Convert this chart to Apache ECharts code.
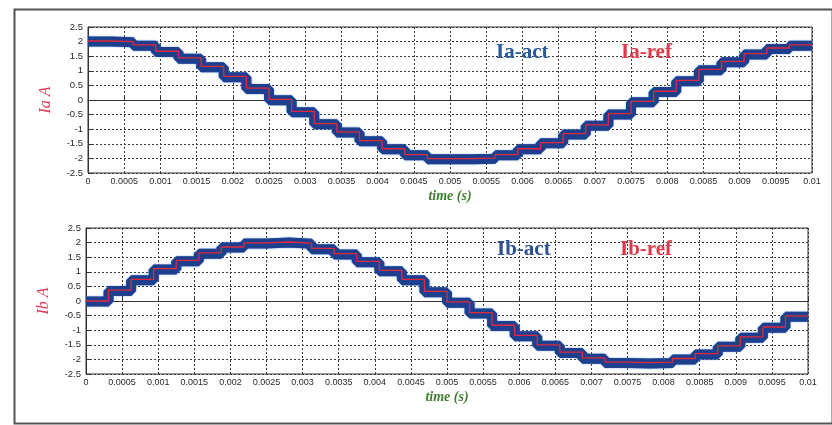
<!DOCTYPE html>
<html>
<head>
<meta charset="utf-8">
<script src="https://cdn.jsdelivr.net/npm/echarts@6/dist/echarts.min.js"></script>
<style>
html,body{margin:0;padding:0;background:#fff;}
#c{width:832px;height:425px;}
</style>
</head>
<body>
<div id="c"></div>
<script>
// step boundaries (s)
const tBounds = [0, 0.0003125, 0.000625, 0.0009375, 0.00125, 0.0015625, 0.001875, 0.0021875, 0.0025, 0.0028125, 0.003125, 0.0034375, 0.00375, 0.0040625, 0.004375, 0.0046875, 0.005, 0.0053125, 0.005625, 0.0059375, 0.00625, 0.0065625, 0.006875, 0.0071875, 0.0075, 0.0078125, 0.008125, 0.0084375, 0.00875, 0.0090625, 0.009375, 0.0096875, 0.01];
// Ia (A), one value per step
const iaRef = [2.02, 2.0, 1.89, 1.67, 1.44, 1.15, 0.81, 0.41, 0.02, -0.39, -0.81, -1.09, -1.39, -1.67, -1.87, -2.01, -2.01, -1.99, -1.87, -1.67, -1.46, -1.15, -0.85, -0.47, -0.05, 0.30, 0.67, 1.05, 1.32, 1.59, 1.78, 1.89];
const iaAct = [2.0, 1.98, 1.86, 1.64, 1.41, 1.12, 0.78, 0.38, -0.01, -0.42, -0.83, -1.11, -1.41, -1.69, -1.89, -2.03, -2.03, -2.01, -1.89, -1.69, -1.48, -1.18, -0.88, -0.50, -0.08, 0.27, 0.64, 1.02, 1.29, 1.56, 1.75, 1.86];
// Ib (A), one value per step
const ibRef = [0.0, 0.37, 0.74, 1.11, 1.39, 1.65, 1.85, 1.99, 2.02, 1.98, 1.80, 1.62, 1.36, 1.05, 0.74, 0.33, -0.03, -0.40, -0.83, -1.18, -1.50, -1.75, -1.95, -2.09, -2.11, -2.09, -1.97, -1.80, -1.54, -1.23, -0.89, -0.51];
const ibAct = [-0.02, 0.34, 0.71, 1.08, 1.36, 1.62, 1.83, 1.97, 2.0, 1.96, 1.77, 1.59, 1.33, 1.02, 0.71, 0.30, -0.06, -0.43, -0.86, -1.21, -1.53, -1.78, -1.98, -2.12, -2.14, -2.12, -2.0, -1.83, -1.57, -1.26, -0.92, -0.54];
// tick labels
const xTickLabels = ['0','0.0005','0.001','0.0015','0.002','0.0025','0.003','0.0035','0.004','0.0045','0.005','0.0055','0.006','0.0065','0.007','0.0075','0.008','0.0085','0.009','0.0095','0.01'];
const yTickLabels = ['-2.5','-2','-1.5','-1','-0.5','0','0.5','1','1.5','2','2.5'];

function stepPts(vals){
  const pts = vals.map((v,i)=>[tBounds[i], v]);
  pts.push([tBounds[tBounds.length-1], vals[vals.length-1]]);
  return pts;
}

const chart = echarts.init(document.getElementById('c'), null, {renderer:'canvas'});

function xAxisCfg(gi){
  return {
    type:'value', gridIndex:gi, min:0, max:0.01, interval:0.0005,
    name:'time (s)', nameLocation:'middle', nameGap:16,
    nameTextStyle:{color:'#3f7f2f', fontFamily:'Liberation Serif', fontStyle:'italic', fontWeight:'bold', fontSize:14},
    axisLine:{show:true, lineStyle:{color:'#333', width:1}},
    axisTick:{show:true, inside:true, length:4, lineStyle:{color:'#333'}},
    axisLabel:{color:'#2a2a2a', fontFamily:'Liberation Sans', fontSize:9, margin:4, interval:0, hideOverlap:false,
      formatter:v=>xTickLabels[Math.round(v/0.0005)]},
    splitLine:{show:true, lineStyle:{color:'#3a3a3a', type:[2,2], width:1}}
  };
}
function yAxisCfg(gi, nm){
  return {
    type:'value', gridIndex:gi, min:-2.5, max:2.5, interval:0.5,
    name:nm, nameLocation:'middle', nameGap:34, nameRotate:90,
    nameTextStyle:{color:'#e0405a', fontFamily:'Liberation Serif', fontStyle:'italic', fontSize:16},
    axisLine:{show:true, lineStyle:{color:'#333', width:1}},
    axisTick:{show:true, inside:true, length:4, lineStyle:{color:'#333'}},
    axisLabel:{color:'#2a2a2a', fontFamily:'Liberation Sans', fontSize:9.5, margin:5,
      formatter:v=>yTickLabels[Math.round((v+2.5)/0.5)]},
    splitLine:{show:true, lineStyle:{color:'#3a3a3a', type:[2,2], width:1}}
  };
}
function actSeries(name, gi, vals){
  return {name, type:'line', xAxisIndex:gi, yAxisIndex:gi, step:'end', symbol:'none', animation:false,
    data:stepPts(vals), z:3,
    lineStyle:{color:'#1d3f8e', width:10, shadowColor:'#3f7fd0', shadowBlur:1.5}};
}
function refSeries(name, gi, vals){
  return {name, type:'line', xAxisIndex:gi, yAxisIndex:gi, step:'end', symbol:'none', animation:false,
    data:stepPts(vals), z:4,
    lineStyle:{color:'#e02a3c', width:1.3}};
}

const labelFont = {fontFamily:'Liberation Serif', fontWeight:'bold', fontSize:21};

chart.setOption({
  backgroundColor:'#fff',
  animation:false,
  grid:[
    {left:88, right:20, top:27, height:146, show:true, borderColor:'#333', borderWidth:1, backgroundColor:'#fff'},
    {left:86, right:24, top:228, height:146, show:true, borderColor:'#333', borderWidth:1, backgroundColor:'#fff'}
  ],
  xAxis:[xAxisCfg(0), xAxisCfg(1)],
  yAxis:[yAxisCfg(0,'Ia A'), yAxisCfg(1,'Ib A')],
  series:[
    actSeries('Ia-act',0,iaAct), refSeries('Ia-ref',0,iaRef),
    actSeries('Ib-act',1,ibAct), refSeries('Ib-ref',1,ibRef)
  ],
  graphic:[
    {type:'rect', left:12, top:7, shape:{width:818, height:414}, style:{fill:'none', stroke:'#555', lineWidth:2}, silent:true, z:-1},
    {type:'text', left:496, top:42, style:Object.assign({text:'Ia-act', fill:'#2b5a9c'}, labelFont), z:10},
    {type:'text', left:621, top:42, style:Object.assign({text:'Ia-ref', fill:'#e03a4a'}, labelFont), z:10},
    {type:'text', left:497, top:239, style:Object.assign({text:'Ib-act', fill:'#2b4f94'}, labelFont), z:10},
    {type:'text', left:620, top:239, style:Object.assign({text:'Ib-ref', fill:'#e03a4a'}, labelFont), z:10}
  ]
});
</script>
</body>
</html>
